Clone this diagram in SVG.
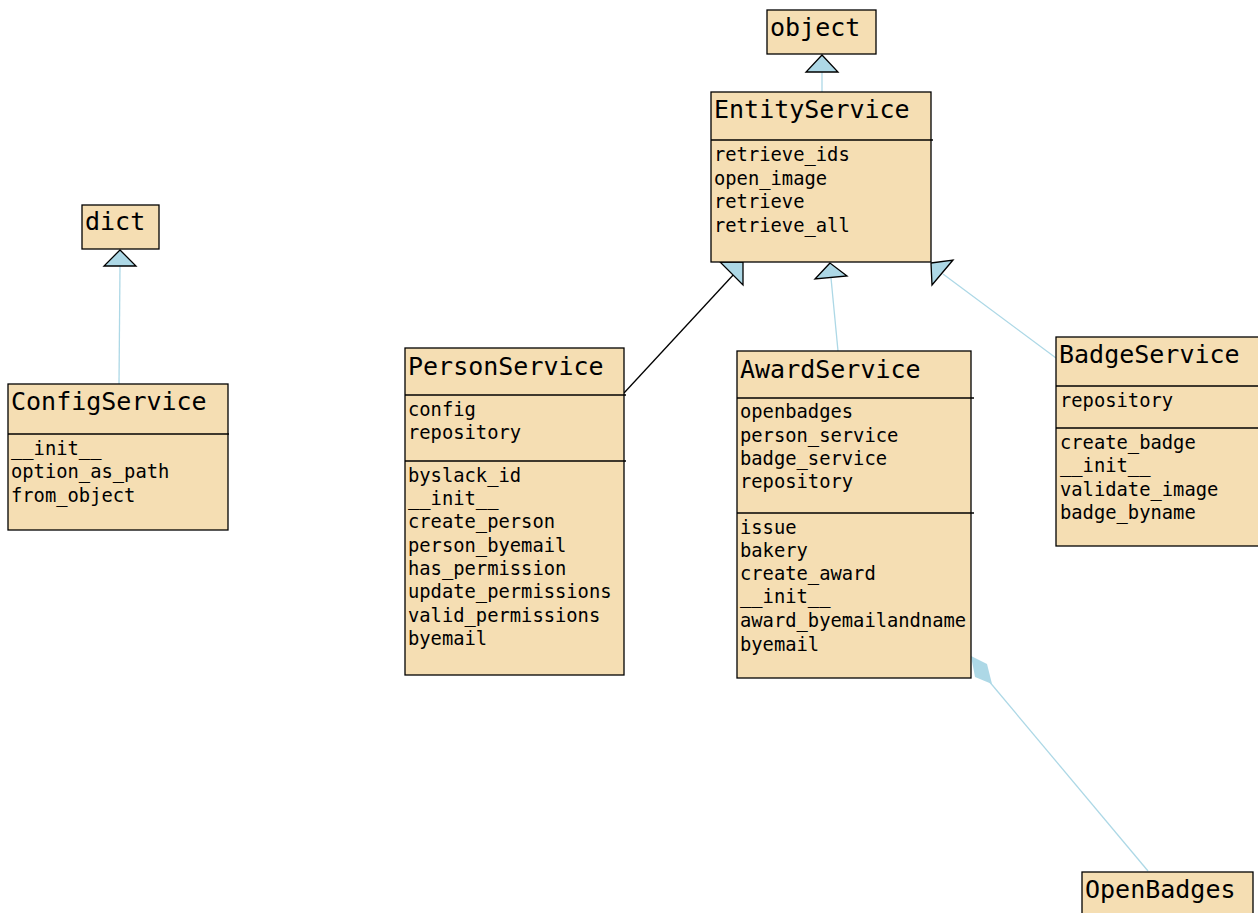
<svg xmlns="http://www.w3.org/2000/svg" width="1258" height="913" viewBox="0 0 1258 913">
  <style>
    .box { fill: #F5DEB3; stroke: #000; stroke-width: 1.3; }
    .div { stroke: #000; stroke-width: 1.3; }
    .title { font-family: "DejaVu Sans Mono", "Liberation Mono", monospace; font-size: 25px; fill: #000; }
    .mem { font-family: "DejaVu Sans Mono", "Liberation Mono", monospace; font-size: 18.8px; fill: #000; }
    .edge { fill: none; stroke: #ADD8E6; stroke-width: 1.3; }
    .edge-dark { fill: none; stroke: #000; stroke-width: 1.3; }
    .tri { fill: #ADD8E6; stroke: #000; stroke-width: 1.3; stroke-linejoin: miter; }
    .dia { fill: #ADD8E6; stroke: none; }
  </style>
  <rect width="1258" height="913" fill="#fff"/>

  <!-- connectors: inheritance triangles and composition diamond -->
  <g id="connectors">
    <line class="edge" x1="822" y1="72" x2="822" y2="92"/>
    <polygon class="tri" points="822,55 806,72 838,72"/>

    <line class="edge" x1="119" y1="384" x2="120" y2="266"/>
    <polygon class="tri" points="120,250 104,266 136,266"/>

    <line class="edge-dark" x1="624" y1="393" x2="735" y2="273"/>
    <polygon class="tri" points="720,262 743,262 743,285"/>

    <line class="edge" x1="838" y1="351" x2="831" y2="278"/>
    <polygon class="tri" points="830,263 815,279 847,276"/>

    <line class="edge" x1="1056" y1="358" x2="943" y2="274"/>
    <polygon class="tri" points="931,263 953,260 932,285"/>

    <line class="edge" x1="988" y1="680" x2="1148" y2="871"/>
    <polygon class="dia" points="971,656 987,664 992,684 975,677"/>
  </g>

  <g id="object">
    <rect class="box" x="767" y="10" width="109" height="44"/>
    <text class="title" x="770" y="36">object</text>
  </g>

  <g id="EntityService">
    <rect class="box" x="711" y="92" width="220" height="170"/>
    <line class="div" x1="711" y1="140" x2="933" y2="140"/>
    <text class="title" x="714" y="118">EntityService</text>
    <text class="mem" x="714" y="161">retrieve_ids</text>
    <text class="mem" x="714" y="185">open_image</text>
    <text class="mem" x="714" y="208">retrieve</text>
    <text class="mem" x="714" y="232">retrieve_all</text>
  </g>

  <g id="dict">
    <rect class="box" x="82" y="205" width="77" height="44"/>
    <text class="title" x="85" y="230">dict</text>
  </g>

  <g id="ConfigService">
    <rect class="box" x="8" y="384" width="220" height="146"/>
    <line class="div" x1="8" y1="434" x2="229" y2="434"/>
    <text class="title" x="11" y="410">ConfigService</text>
    <text class="mem" x="11" y="455">__init__</text>
    <text class="mem" x="11" y="478">option_as_path</text>
    <text class="mem" x="11" y="502">from_object</text>
  </g>

  <g id="PersonService">
    <rect class="box" x="405" y="348" width="219" height="327"/>
    <line class="div" x1="405" y1="395" x2="626" y2="395"/>
    <line class="div" x1="405" y1="461" x2="626" y2="461"/>
    <text class="title" x="408" y="375">PersonService</text>
    <text class="mem" x="408" y="416">config</text>
    <text class="mem" x="408" y="439">repository</text>
    <text class="mem" x="408" y="482">byslack_id</text>
    <text class="mem" x="408" y="505">__init__</text>
    <text class="mem" x="408" y="528">create_person</text>
    <text class="mem" x="408" y="552">person_byemail</text>
    <text class="mem" x="408" y="575">has_permission</text>
    <text class="mem" x="408" y="598">update_permissions</text>
    <text class="mem" x="408" y="622">valid_permissions</text>
    <text class="mem" x="408" y="645">byemail</text>
  </g>

  <g id="AwardService">
    <rect class="box" x="737" y="351" width="234" height="327"/>
    <line class="div" x1="737" y1="398" x2="974" y2="398"/>
    <line class="div" x1="737" y1="513" x2="974" y2="513"/>
    <text class="title" x="740" y="378">AwardService</text>
    <text class="mem" x="740" y="418">openbadges</text>
    <text class="mem" x="740" y="442">person_service</text>
    <text class="mem" x="740" y="465">badge_service</text>
    <text class="mem" x="740" y="488">repository</text>
    <text class="mem" x="740" y="534">issue</text>
    <text class="mem" x="740" y="557">bakery</text>
    <text class="mem" x="740" y="580">create_award</text>
    <text class="mem" x="740" y="603">__init__</text>
    <text class="mem" x="740" y="627">award_byemailandname</text>
    <text class="mem" x="740" y="651">byemail</text>
  </g>

  <g id="BadgeService">
    <rect class="box" x="1056" y="337" width="220" height="209"/>
    <line class="div" x1="1056" y1="386" x2="1258" y2="386"/>
    <line class="div" x1="1056" y1="428" x2="1258" y2="428"/>
    <text class="title" x="1059" y="363">BadgeService</text>
    <text class="mem" x="1060" y="407">repository</text>
    <text class="mem" x="1060" y="449">create_badge</text>
    <text class="mem" x="1060" y="472">__init__</text>
    <text class="mem" x="1060" y="496">validate_image</text>
    <text class="mem" x="1060" y="519">badge_byname</text>
  </g>

  <g id="OpenBadges">
    <rect class="box" x="1082" y="872" width="171" height="60"/>
    <text class="title" x="1085" y="898">OpenBadges</text>
  </g>
</svg>
